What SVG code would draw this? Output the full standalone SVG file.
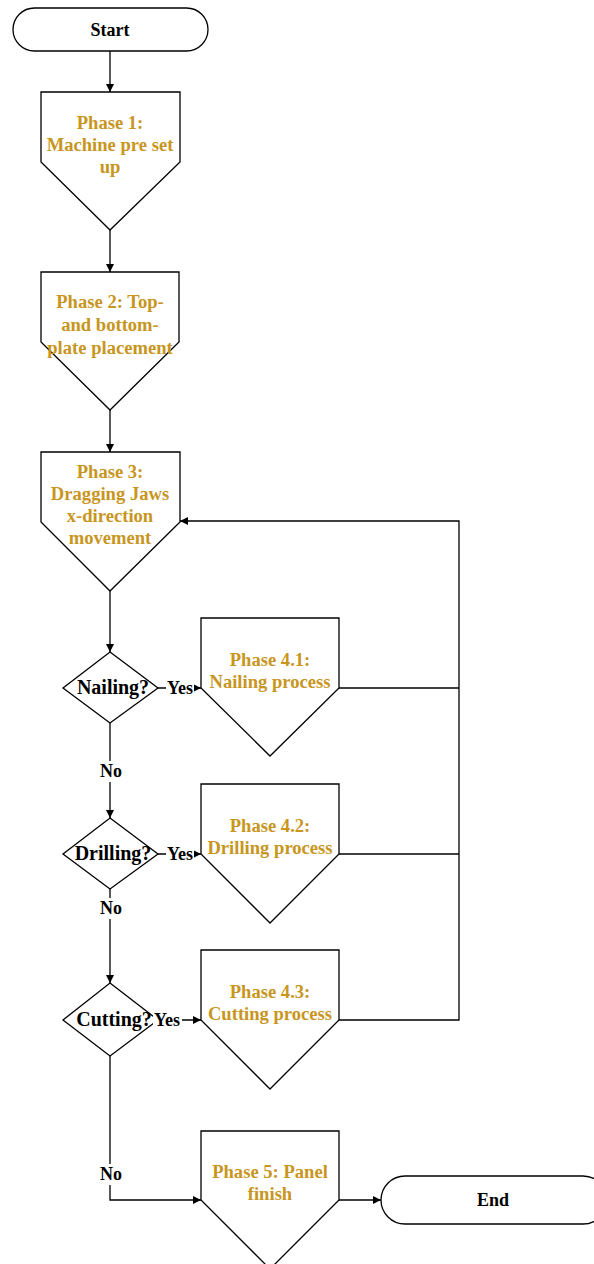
<svg xmlns="http://www.w3.org/2000/svg" width="594" height="1264" viewBox="0 0 594 1264">
  <style>
    .shape { fill: #ffffff; stroke: #000000; stroke-width: 1.3; }
    .line { fill: none; stroke: #000000; stroke-width: 1.3; }
    .phase { font-family: "Liberation Serif", "Times New Roman", serif; font-size: 18.6px; font-weight: bold; fill: #C8961E; text-anchor: middle; }
    .label { font-family: "Liberation Serif", "Times New Roman", serif; font-size: 18px; font-weight: bold; fill: #000000; text-anchor: middle; }
    .question { font-family: "Liberation Serif", "Times New Roman", serif; font-size: 20px; font-weight: bold; fill: #000000; text-anchor: middle; }
    .bg { fill: #ffffff; stroke: none; }
  </style>
  <defs>
    <marker id="arrow" viewBox="0 0 10 10" refX="10" refY="5" markerWidth="9" markerHeight="8" markerUnits="userSpaceOnUse" orient="auto">
      <path d="M0,0 L10,5 L0,10 Z" fill="#000000"/>
    </marker>
  </defs>

  <rect width="594" height="1264" fill="#ffffff"/>

  <!-- connectors -->
  <g id="connectors">
    <path class="line" d="M110,51 V92" marker-end="url(#arrow)"/>
    <path class="line" d="M110,230 V272" marker-end="url(#arrow)"/>
    <path class="line" d="M110,410 V452" marker-end="url(#arrow)"/>
    <path class="line" d="M110,591 V652" marker-end="url(#arrow)"/>
    <path class="line" d="M110,723 V818" marker-end="url(#arrow)"/>
    <path class="line" d="M110,889 V983" marker-end="url(#arrow)"/>
    <path class="line" d="M110,1056 V1200 H201" marker-end="url(#arrow)"/>
    <path class="line" d="M158,688 H201" marker-end="url(#arrow)"/>
    <path class="line" d="M158,854 H201" marker-end="url(#arrow)"/>
    <path class="line" d="M158,1020 H201" marker-end="url(#arrow)"/>
    <path class="line" d="M339,688 H459"/>
    <path class="line" d="M339,854 H459"/>
    <path class="line" d="M339,1020 H459 V521 H180" marker-end="url(#arrow)"/>
    <path class="line" d="M339,1200 H381" marker-end="url(#arrow)"/>
  </g>

  <!-- terminals -->
  <g id="start">
    <rect class="shape" x="13" y="8" width="195" height="43" rx="21.5" ry="21.5"/>
    <text class="label" x="110" y="36">Start</text>
  </g>
  <g id="end">
    <rect class="shape" x="381" y="1176" width="226" height="48" rx="24" ry="24"/>
    <text class="label" x="493" y="1206">End</text>
  </g>

  <!-- phase blocks -->
  <g id="phase1">
    <path class="shape" d="M41,92 H180 V162 L110,230 L41,162 Z"/>
    <text class="phase" x="110" y="129">Phase 1:</text>
    <text class="phase" x="110" y="151">Machine pre set</text>
    <text class="phase" x="110" y="173">up</text>
  </g>
  <g id="phase2">
    <path class="shape" d="M41,272 H179 V342 L110,410 L41,342 Z"/>
    <text class="phase" x="110" y="308">Phase 2: Top-</text>
    <text class="phase" x="110" y="331">and bottom-</text>
    <text class="phase" x="110" y="354">plate placement</text>
  </g>
  <g id="phase3">
    <path class="shape" d="M41,452 H180 V522 L110,591 L41,522 Z"/>
    <text class="phase" x="110" y="478">Phase 3:</text>
    <text class="phase" x="110" y="500">Dragging Jaws</text>
    <text class="phase" x="110" y="522">x-direction</text>
    <text class="phase" x="110" y="544">movement</text>
  </g>
  <g id="phase4-1">
    <path class="shape" d="M201,618 H339 V688 L270,756 L201,688 Z"/>
    <text class="phase" x="270" y="666">Phase 4.1:</text>
    <text class="phase" x="270" y="688">Nailing process</text>
  </g>
  <g id="phase4-2">
    <path class="shape" d="M201,784 H339 V854 L270,923 L201,854 Z"/>
    <text class="phase" x="270" y="832">Phase 4.2:</text>
    <text class="phase" x="270" y="854">Drilling process</text>
  </g>
  <g id="phase4-3">
    <path class="shape" d="M201,950 H339 V1020 L270,1089 L201,1020 Z"/>
    <text class="phase" x="270" y="998">Phase 4.3:</text>
    <text class="phase" x="270" y="1020">Cutting process</text>
  </g>
  <g id="phase5">
    <path class="shape" d="M201,1131 H339 V1200 L270,1269 L201,1200 Z"/>
    <text class="phase" x="270" y="1178">Phase 5: Panel</text>
    <text class="phase" x="270" y="1200">finish</text>
  </g>

  <!-- decisions -->
  <g id="nailing">
    <path class="shape" d="M110,652 L158,688 L110,723 L63,688 Z"/>
    <text class="question" x="113" y="694">Nailing?</text>
  </g>
  <g id="drilling">
    <path class="shape" d="M110,818 L158,854 L110,889 L63,854 Z"/>
    <text class="question" x="113" y="860">Drilling?</text>
  </g>
  <g id="cutting">
    <path class="shape" d="M110,983 L158,1020 L110,1056 L63,1020 Z"/>
    <text class="question" x="114" y="1026">Cutting?</text>
  </g>

  <!-- branch labels -->
  <g id="labels">
    <rect class="bg" x="166" y="678" width="28" height="20"/>
    <text class="label" x="180" y="694">Yes</text>
    <rect class="bg" x="166" y="844" width="28" height="20"/>
    <text class="label" x="180" y="860">Yes</text>
    <rect class="bg" x="153" y="1010" width="29" height="20"/>
    <text class="label" x="167" y="1026">Yes</text>
    <rect class="bg" x="98" y="761" width="26" height="21"/>
    <text class="label" x="111" y="777">No</text>
    <rect class="bg" x="98" y="898" width="26" height="21"/>
    <text class="label" x="111" y="914">No</text>
    <rect class="bg" x="98" y="1164" width="26" height="21"/>
    <text class="label" x="111" y="1180">No</text>
  </g>
</svg>
